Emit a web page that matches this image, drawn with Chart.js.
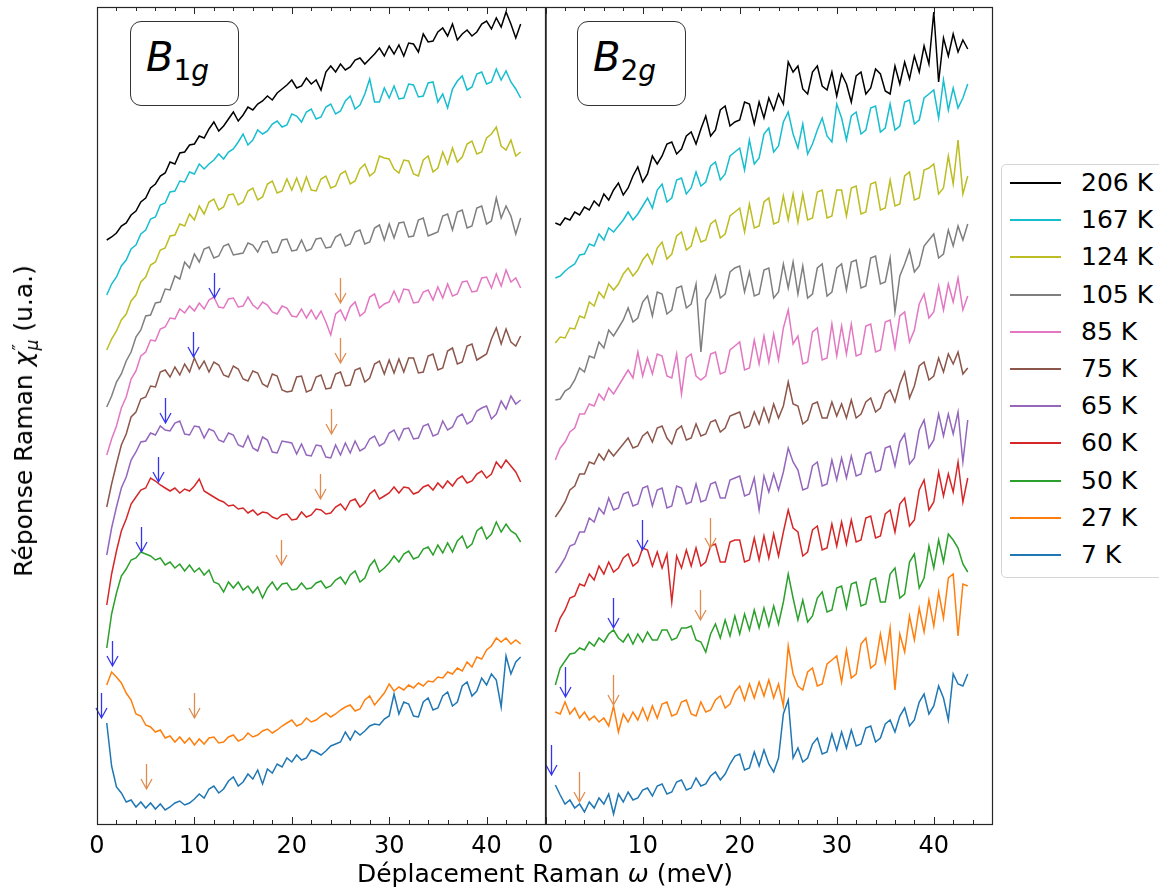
<!DOCTYPE html>
<html lang="fr">
<head>
<meta charset="utf-8">
<title>Réponse Raman B1g / B2g</title>
<script src="https://cdn.jsdelivr.net/npm/chart.js@4.4.1/dist/chart.umd.min.js"></script>
<style>
  html, body { margin: 0; padding: 0; background: #fff; }
  body { position: relative; width: 1159px; height: 888px; overflow: hidden; font-family: "DejaVu Sans", sans-serif; color: #000; }
  canvas { position: absolute; top: 0; }
  #b1g { left: 0; }
  #b2g { left: 530px; }
  .tag { position: absolute; top: 21px; width: 109px; height: 85px; box-sizing: border-box; border: 1.3px solid #333; border-radius: 11px; background: #fff; }
  .tag span { position: absolute; left: 15px; top: 15px; font-size: 40px; line-height: 40px; white-space: nowrap; }
  .tag sub { font-size: 28px; vertical-align: -9px; line-height: 0; }
  #ylab { position: absolute; left: 24px; top: 421px; transform: translate(-50%, -50%) rotate(-90deg); font-size: 25px; white-space: nowrap; }
  #ylab .ss { display: inline-block; vertical-align: -6px; font-size: 17px; line-height: 13px; margin-left: 1px; }
  #ylab .ss span { display: block; }
  #xlab { position: absolute; left: 545px; top: 873px; transform: translate(-50%, -50%); font-size: 25px; white-space: nowrap; }
  #legend { position: absolute; left: 1001px; top: 164px; width: 190px; height: 414px; box-sizing: border-box; border: 1px solid #d5d5d5; border-radius: 5px; background: #fff; }
  .row { position: absolute; left: 8px; height: 30px; width: 170px; }
  .row .swatch { position: absolute; left: 0; top: 14px; width: 51px; height: 2px; }
  .row .txt { position: absolute; left: 71px; top: 0; font-size: 25px; line-height: 30px; white-space: nowrap; }
</style>
</head>
<body>
<canvas id="b1g" width="560" height="888"></canvas>
<canvas id="b2g" width="475" height="888"></canvas>
<div class="tag" style="left:130px"><span><i>B</i><sub>1<i>g</i></sub></span></div>
<div class="tag" style="left:577px"><span><i>B</i><sub>2<i>g</i></sub></span></div>
<div id="ylab">Réponse Raman <i>χ</i><span class="ss"><span>″</span><span><i>μ</i></span></span> (u.a.)</div>
<div id="xlab">Déplacement Raman <i>ω</i> (meV)</div>
<div id="legend"></div>
<script>
// energy grid (meV), shared by every spectrum
const energy = [
  1, 1.5, 2, 2.5, 3, 3.5, 4, 4.5, 5, 5.5,
  6, 6.5, 7, 7.5, 8, 8.5, 9, 9.5, 10, 10.5,
  11, 11.5, 12, 12.5, 13, 13.5, 14, 14.5, 15, 15.5,
  16, 16.5, 17, 17.5, 18, 18.5, 19, 19.5, 20, 20.5,
  21, 21.5, 22, 22.5, 23, 23.5, 24, 24.5, 25, 25.5,
  26, 26.5, 27, 27.5, 28, 28.5, 29, 29.5, 30, 30.5,
  31, 31.5, 32, 32.5, 33, 33.5, 34, 34.5, 35, 35.5,
  36, 36.5, 37, 37.5, 38, 38.5, 39, 39.5, 40, 40.5,
  41, 41.5, 42, 42.5, 43, 43.5
];

const temps = ['206 K', '167 K', '124 K', '105 K', '85 K', '75 K', '65 K', '60 K', '50 K', '27 K', '7 K'];
const palette = ['#000000', '#17becf', '#bcbd22', '#7f7f7f', '#e377c2', '#8c564b', '#9467bd', '#d62728', '#2ca02c', '#ff7f0e', '#1f77b4'];

const majorTicks = [0, 10, 20, 30, 40];
const minorTicks = [2, 4, 6, 8, 12, 14, 16, 18, 22, 24, 26, 28, 32, 34, 36, 38, 42, 44];

// B1g spectra (offset for clarity, u.a.)
const b1g206 = [584,587,591,598,601,609,613,622,626,636, 640,648,651,662,660,671,672,679,680,688, 686,695,702,693,698,705,712,703,709,717, 714,720,723,728,724,731,735,739,744,736, 738,746,740,744,734,752,758,752,760,754, 757,764,766,760,765,770,776,768,778,770, 779,768,781,780,772,790,782,783,792,796, 788,800,784,790,794,788,792,800,803,795, 806,797,812,800,786,800];
const b1g167 = [529,540,547,558,564,575,579,590,594,605, 607,619,621,632,633,643,642,652,650,660, 655,660,664,670,665,672,675,682,690,679, 684,694,690,693,700,703,697,699,710,708, 702,712,715,705,707,717,720,710,713,723, 728,715,719,730,745,722,722,736,726,738, 725,726,740,739,727,728,741,742,722,730, 716,735,743,748,734,737,750,752,740,742, 755,744,753,742,735,726];
const b1g124 = [474,485,493,504,510,523,529,542,547,559, 562,574,576,588,589,600,598,610,604,618, 610,622,625,614,617,629,630,619,622,633, 636,624,627,640,643,631,633,645,634,646, 633,647,634,633,645,648,636,638,650,653, 640,643,655,660,648,652,668,666,665,655, 651,664,663,650,648,664,668,652,656,672, 660,676,662,667,680,683,670,672,686,690, 697,678,674,684,668,672];
const b1g105 = [417,428,442,450,463,472,487,494,508,509, 521,522,535,534,548,545,562,556,570,562, 575,577,566,568,578,580,569,570,571,581, 579,572,582,583,571,572,584,585,573,574, 584,573,575,585,586,576,577,587,590,578, 580,592,594,580,582,596,599,584,600,586, 601,602,587,588,604,606,588,590,592,608, 610,594,612,614,596,598,616,618,600,603, 626,606,618,608,590,606];
const b1g85 = [369,385,398,416,427,445,453,468,472,484, 483,495,497,506,505,515,511,518,513,521, 515,524,527,517,516,525,526,517,518,527, 519,515,522,519,512,510,518,516,508,507, 515,506,514,505,513,502,489,510,514,504, 517,522,508,512,527,530,516,520,522,533, 522,535,534,521,522,532,534,524,537,526, 540,528,530,542,543,532,533,546,547,536, 550,538,554,542,546,536];
const b1g75 = [317,340,360,379,390,407,412,425,427,438, 437,452,454,447,457,449,460,452,466,455, 463,452,462,459,449,447,458,455,445,443, 453,451,440,437,450,448,434,432,433,447, 448,432,434,447,449,435,436,450,452,438, 439,454,456,442,446,460,463,450,464,451, 465,452,466,466,451,452,468,470,454,456, 473,476,460,462,478,480,464,467,470,485, 496,480,495,482,478,488];
const b1g65 = [269,296,317,336,347,364,372,382,383,391, 389,398,394,393,401,403,390,389,398,397, 386,395,393,384,382,391,389,379,377,388, 376,373,387,384,372,371,383,382,381,370, 380,369,368,379,378,367,366,379,369,381, 371,383,373,376,385,388,378,381,391,394, 384,395,396,385,386,398,400,388,390,403, 394,397,407,410,400,403,413,416,418,405, 410,423,415,428,420,424];
const b1g60 = [219,250,273,293,305,320,327,334,336,346, 343,339,336,333,336,331,335,333,338,345, 333,330,327,324,322,318,319,315,316,311, 314,309,312,311,307,305,309,310,304,305, 312,307,309,315,314,310,311,317,320,314, 323,325,317,321,330,334,325,328,331,337, 331,337,336,330,332,337,339,334,341,336, 343,338,345,348,341,343,350,353,346,350, 362,356,364,358,352,342];
const b1g50 = [176,210,231,248,255,264,266,272,270,268, 264,266,259,262,256,260,253,259,252,256, 249,254,242,240,232,242,236,242,234,238, 231,237,226,236,242,234,240,241,234,235, 241,235,236,241,243,236,238,244,247,240, 249,253,242,246,258,264,252,256,261,268, 262,270,273,265,267,275,277,269,279,271, 281,272,283,288,276,280,293,297,285,290, 302,292,300,293,290,282];
const b1g27 = [139,152,147,141,131,124,110,108,99,97, 92,94,86,88,82,87,81,86,79,85, 80,86,87,81,82,87,89,83,85,91, 87,89,93,95,91,94,98,101,104,98, 100,106,102,104,108,111,107,110,114,117, 119,113,115,124,128,119,125,131,140,133, 137,134,139,136,141,138,143,142,147,146, 152,150,156,153,162,157,167,165,174,178, 186,182,186,180,184,180];
const b1g7 = [101,58,37,31,22,24,17,22,16,21, 15,20,14,17,21,23,19,21,25,30, 26,35,38,31,35,43,47,38,42,50, 45,54,40,55,51,60,57,66,62,69, 64,66,74,72,69,73,78,80,82,92, 84,93,89,93,98,100,99,105,108,130, 110,122,120,108,107,122,126,114,116,128, 132,118,122,138,142,128,133,146,139,150, 144,117,168,150,162,167];

// B2g spectra (offset for clarity, u.a.)
const b2g206 = [601,599,606,604,612,609,617,614,623,618, 630,624,634,641,629,636,648,657,642,650, 668,660,668,680,682,670,675,688,692,680, 695,708,688,694,714,718,698,702,704,722, 720,700,722,706,726,714,730,720,762,752, 758,735,730,752,758,738,734,752,728,750, 740,722,748,752,730,736,755,750,733,730, 758,740,762,745,768,752,778,760,812,742, 786,768,790,772,784,775];
const b2g167 = [546,548,553,557,560,569,570,580,578,590, 584,596,592,598,604,612,604,610,618,626, 616,634,640,622,626,644,646,630,636,652, 638,642,658,662,644,650,668,672,676,654, 684,660,666,690,696,672,678,702,712,690, 676,700,670,680,694,706,688,682,720,706, 684,708,712,690,694,716,718,692,696,720, 694,698,722,724,700,704,726,730,734,706, 744,714,736,716,726,740];
const b2g124 = [481,487,486,496,495,508,506,522,518,532, 526,540,534,540,550,556,548,554,564,570, 560,576,582,565,570,588,592,574,578,596, 582,584,600,604,586,590,608,612,616,592, 620,596,598,622,626,600,602,628,604,630, 602,630,604,606,632,634,606,608,634,634, 608,636,638,610,612,640,642,614,616,644, 618,620,648,652,624,626,654,656,660,630, 636,668,640,684,630,648];
const b2g105 = [424,425,433,436,444,456,452,468,466,482, 476,494,488,496,504,516,502,506,522,528, 508,532,530,510,514,536,538,516,520,540, 472,524,532,548,526,530,552,556,558,532, 552,528,530,554,556,526,532,560,536,562, 530,558,526,530,556,560,528,532,556,560, 534,562,564,536,538,566,568,540,542,566, 512,548,560,574,552,558,578,584,590,566, 570,594,578,598,584,600];
const b2g85 = [364,376,382,392,396,410,410,420,418,430, 424,436,430,438,446,454,446,472,448,466, 450,470,468,448,446,470,430,466,470,448, 444,448,470,472,450,452,474,478,482,454, 456,484,460,488,462,490,464,496,514,480, 488,460,462,492,496,464,466,500,468,498, 470,500,468,470,498,500,472,474,502,504, 476,508,512,482,494,520,530,506,512,538, 514,540,522,546,514,528];
const b2g75 = [307,314,322,334,338,350,350,362,360,370, 364,374,368,374,380,386,376,378,388,392, 382,396,398,386,380,394,398,384,386,400, 388,390,402,404,392,396,408,410,412,396, 398,412,400,416,402,420,406,418,442,420, 418,400,404,420,422,406,406,422,408,420, 406,424,406,410,422,426,412,416,430,434, 422,440,452,426,438,458,462,444,448,466, 452,470,460,472,450,456];
const b2g65 = [251,258,266,278,280,292,292,306,302,316, 310,326,314,316,330,332,318,320,336,338, 318,334,336,316,318,338,336,320,322,340, 322,324,340,342,326,326,344,346,348,328, 330,346,314,348,332,350,334,352,376,362, 354,334,336,358,362,338,340,364,344,366, 346,368,348,350,370,372,352,354,376,378, 358,382,390,360,366,394,404,376,384,410, 388,410,390,412,362,404];
const b2g60 = [192,206,214,226,228,240,238,250,244,258, 250,262,252,256,266,270,258,262,276,274, 258,272,256,270,222,268,256,274,258,276, 258,262,278,280,262,262,282,284,284,262, 264,286,264,288,266,290,268,292,314,296, 292,268,272,294,298,274,276,300,278,302, 280,304,282,284,306,308,286,288,310,314, 292,320,326,298,304,334,344,314,322,352, 328,350,332,362,322,346];
const b2g50 = [139,156,163,170,171,176,174,182,178,186, 182,190,194,186,182,190,180,190,182,192, 184,184,194,194,184,186,196,196,198,184, 182,172,190,200,186,204,188,208,190,210, 194,214,196,216,198,218,200,222,250,226, 204,224,202,208,226,232,212,214,236,238, 216,240,242,218,220,244,246,222,222,250, 256,226,230,262,270,236,246,278,256,284, 262,290,284,276,260,252];
const b2g27 = [112,110,122,110,116,106,112,104,108,102, 106,98,118,92,110,102,112,104,116,104, 118,106,120,122,108,110,122,124,110,108, 122,112,114,124,128,116,120,132,138,124, 140,126,142,128,144,126,140,118,178,150, 138,134,152,156,138,140,160,164,168,142, 174,146,150,180,186,156,160,190,162,196, 134,190,172,208,184,216,192,224,198,232, 206,246,250,188,240,238];
const b2g7 = [39,29,20,24,16,20,12,22,16,26, 20,30,10,30,22,32,24,26,34,36, 28,38,40,30,32,42,44,34,36,46, 38,40,48,52,44,50,60,68,70,54, 56,72,58,74,60,52,66,110,124,66, 76,62,66,80,86,70,72,90,74,92, 76,94,78,80,96,98,82,86,100,104, 92,108,116,98,104,122,130,110,118,138, 126,104,150,140,138,150];

// arrow marks: [energy (meV), value at the arrow tip]
const b1gBlueArrows = [[12.0, 526], [9.9, 467], [7.0, 401], [6.3, 342], [4.5, 272], [1.5, 158], [0.4, 106]];
const b1gOrangeArrows = [[25.0, 521], [24.9, 461], [24.0, 390], [22.9, 325], [18.9, 259], [10.0, 106], [5.0, 35]];
const b2gBlueArrows = [[9.95, 274], [6.9, 196], [2.0, 127], [0.6, 49]];
const b2gOrangeArrows = [[16.9, 276], [15.9, 204], [6.9, 119], [3.4, 22]];

const b1gSeries = [b1g206, b1g167, b1g124, b1g105, b1g85, b1g75, b1g65, b1g60, b1g50, b1g27, b1g7];
const b2gSeries = [b2g206, b2g167, b2g124, b2g105, b2g85, b2g75, b2g65, b2g60, b2g50, b2g27, b2g7];

function points(values) {
  return values.map((v, i) => ({ x: energy[i], y: v }));
}

// frame, inward ticks and arrows drawn over the curves
function decor(blue, orange, arrowLen) {
  return {
    id: 'decor',
    afterDatasetsDraw(chart) {
      const { ctx, chartArea: a } = chart;
      const x = chart.scales.x, y = chart.scales.y;
      ctx.save();

      const arrow = (pt, colour) => {
        const px = Math.round(x.getPixelForValue(pt[0])) + 0.5;
        const py = y.getPixelForValue(pt[1]);
        ctx.strokeStyle = colour;
        ctx.lineWidth = 1.3;
        ctx.beginPath();
        ctx.moveTo(px, py - arrowLen);
        ctx.lineTo(px, py);
        ctx.moveTo(px - 5.5, py - 10);
        ctx.lineTo(px, py);
        ctx.lineTo(px + 5.5, py - 10);
        ctx.stroke();
      };
      blue.forEach(p => arrow(p, '#3535ee'));
      orange.forEach(p => arrow(p, '#e08c50'));

      ctx.strokeStyle = '#262626';
      ctx.lineWidth = 1.2;
      ctx.strokeRect(a.left + 0.5, a.top + 0.5, a.right - a.left, a.bottom - a.top);

      ctx.lineWidth = 1;
      ctx.beginPath();
      const tick = (v, len) => {
        const px = Math.round(x.getPixelForValue(v)) + 0.5;
        ctx.moveTo(px, a.bottom);
        ctx.lineTo(px, a.bottom - len);
        ctx.moveTo(px, a.top);
        ctx.lineTo(px, a.top + len);
      };
      majorTicks.forEach(v => tick(v, 7));
      minorTicks.forEach(v => tick(v, 4));
      ctx.stroke();
      ctx.restore();
    }
  };
}

function buildChart(id, series, blue, orange, arrowLen, pad) {
  // 7 K goes first so Chart.js paints it on top, like the original
  const datasets = series.map((values, i) => ({
    label: temps[i],
    data: points(values),
    borderColor: palette[i],
    borderWidth: 1.5,
    pointRadius: 0,
    fill: false,
    tension: 0
  })).reverse();

  return new Chart(document.getElementById(id), {
    type: 'line',
    data: { datasets },
    options: {
      responsive: false,
      animation: false,
      devicePixelRatio: 1,
      events: [],
      layout: { padding: pad },
      plugins: { legend: { display: false }, tooltip: { enabled: false } },
      scales: {
        x: {
          type: 'linear',
          min: 0,
          max: 46,
          afterFit: s => { s.height = 64; },
          border: { display: false },
          grid: { display: false, drawTicks: false },
          ticks: {
            stepSize: 10,
            includeBounds: false,
            autoSkip: false,
            maxRotation: 0,
            padding: 8,
            color: '#000',
            font: { family: 'DejaVu Sans', size: 24 },
            callback: v => (majorTicks.includes(v) ? String(v) : '')
          }
        },
        y: { type: 'linear', display: false, min: 0, max: 817 }
      }
    },
    plugins: [decor(blue, orange, arrowLen)]
  });
}

buildChart('b1g', b1gSeries, b1gBlueArrows, b1gOrangeArrows, 25, { left: 97, right: 15, top: 7, bottom: 0 });
buildChart('b2g', b2gSeries, b2gBlueArrows, b2gOrangeArrows, 30, { left: 15, right: 13, top: 7, bottom: 0 });

// legend shared by both panels
const legend = document.getElementById('legend');
temps.forEach((t, i) => {
  const row = document.createElement('div');
  row.className = 'row';
  row.style.top = Math.round(3 + i * 37.2) + 'px';
  const sw = document.createElement('div');
  sw.className = 'swatch';
  sw.style.background = palette[i];
  const txt = document.createElement('div');
  txt.className = 'txt';
  txt.textContent = t;
  row.appendChild(sw);
  row.appendChild(txt);
  legend.appendChild(row);
});
</script>
</body>
</html>
